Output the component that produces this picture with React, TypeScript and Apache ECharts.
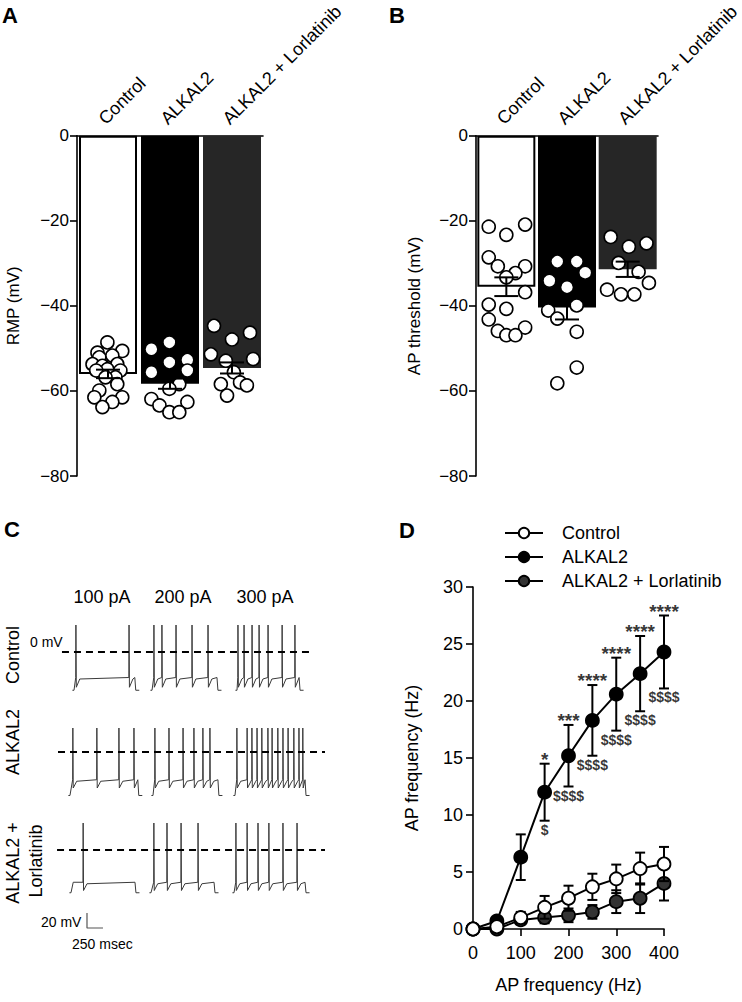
import React, { useEffect, useRef } from "react";
import * as echarts from "echarts";

const FONT = "'Liberation Sans', Arial, Helvetica, sans-serif";

// ---------- Panels A / B ----------
const groups = ["Control", "ALKAL2", "ALKAL2 + Lorlatinib"];

const rmpMean = [-56.0, -58.3, -54.6];
const rmpSem = [1.0, 1.2, 1.3];
const rmpControl = [-48.6, -51.0, -50.6, -52.1, -51.7, -53.7, -54.1, -53.7, -54.9, -55.2, -55.2, -56.8, -56.8, -58.4, -59.9, -61.5, -61.5, -62.6, -63.8];
const rmpControlJitter = [-0.01, -0.17, 0.23, -0.14, 0.07, -0.25, -0.09, 0.15, -0.01, -0.19, 0.2, 0.12, -0.04, 0.15, -0.14, -0.22, 0.23, 0.07, -0.09];
const rmpAlkal2 = [-50.2, -48.6, -53.3, -52.7, -55.6, -55.2, -58.4, -59.5, -61.9, -62.6, -63.4, -65.0, -65.0];
const rmpAlkal2Jitter = [-0.3, -0.01, -0.01, 0.28, -0.3, 0.28, 0.15, -0.01, -0.3, 0.28, -0.17, -0.01, 0.15];
const rmpLorl = [-44.7, -47.9, -46.3, -51.4, -52.9, -52.5, -55.6, -58.4, -58.0, -58.7, -61.1];
const rmpLorlJitter = [-0.29, 0, 0.29, -0.34, -0.1, 0.34, 0.03, -0.18, 0.13, 0.24, -0.08];

const thrMean = [-35.5, -40.4, -31.4];
const thrSem = [2.2, 2.8, 1.8];
const thrControl = [-21.4, -20.9, -23.3, -28.6, -30.7, -30.7, -32.3, -33.3, -36.8, -39.7, -40.7, -43.2, -45.9, -45.1, -46.9, -46.9];
const thrControlJitter = [-0.29, 0.31, 0, -0.29, -0.14, 0.31, 0.15, 0, 0.31, -0.29, 0, -0.29, -0.14, 0.31, 0, 0.15];
const thrAlkal2 = [-29.6, -29.6, -32.2, -34.1, -35.6, -39.9, -41.1, -43.0, -46.1, -54.5, -58.2];
const thrAlkal2Jitter = [-0.16, 0.16, 0.3, -0.29, 0, 0.16, -0.31, -0.16, 0.16, 0.16, -0.16];
const thrLorl = [-23.8, -26.1, -25.3, -29.9, -32.0, -34.6, -36.2, -37.3, -37.3];
const thrLorlJitter = [-0.28, 0.02, 0.31, -0.15, 0.18, 0.35, -0.34, -0.11, 0.11];

// ---------- Panel D ----------
const currentX = [0, 50, 100, 150, 200, 250, 300, 350, 400];
const freqControl = [0, 0.2, 1.0, 1.9, 2.7, 3.7, 4.4, 5.3, 5.7];
const semControl = [0, 0, 0.5, 1.0, 1.1, 1.15, 1.25, 1.4, 1.5];
const freqAlkal2 = [0, 0.7, 6.3, 12.0, 15.2, 18.3, 20.6, 22.4, 24.3];
const semAlkal2 = [0, 0.2, 2.0, 2.5, 2.7, 3.1, 3.2, 3.3, 3.2];
const freqLorl = [0, 0, 0.8, 1.0, 1.2, 1.5, 2.4, 2.7, 4.0];
const semLorl = [0, 0, 0.3, 0.5, 0.6, 0.6, 1.0, 1.3, 1.5];
const starLabels = ["", "", "", "*", "***", "****", "****", "****", "****"];
const dollarLabels = ["", "", "", "$", "$$$$", "$$$$", "$$$$", "$$$$", "$$$$"];

// ---------- Panel C (traces: spike times in ms after step onset) ----------
const traceRows = ["Control", "ALKAL2", "ALKAL2 + Lorlatinib"];
const currentSteps = ["100 pA", "200 pA", "300 pA"];
const spikesControl = [[30, 860], [30, 155, 375, 625, 875], [15, 110, 235, 345, 485, 705, 905]];
const spikesAlkal2 = [[45, 420, 765, 1000], [30, 250, 470, 640, 780, 890], [30, 190, 265, 345, 420, 515, 580, 670, 750, 830, 920, 1000, 1060]];
const spikesLorl = [[190], [45, 250, 470, 735], [30, 205, 375, 545, 765, 985]];
const stepEndControl = [950, 1015, 970];
const stepEndAlkal2 = [1060, 1015, 1095];
const stepEndLorl = [1000, 985, 1110];
const restMv = [-51, -58, -57];
const plateauMv = [-34, -37, -43];
const peakMv = [36, 32, 36];
const ahpMv = [-47, -48, -54];
const scaleBarMv = 20;
const scaleBarMs = 250;

// ---------- layout ----------
const sweepStartMs = [[375, 1594, 2922], [312, 1609, 2890], [328, 1578, 2875]];
const zeroLineMs = [[187, 4110], [125, 4297], [110, 4297]];

const minus = (v: number) => (v < 0 ? "\u2212" + Math.abs(v) : String(v));

function sweepPoints(start: number, spikes: number[], stepEnd: number, r: number) {
  const rest = restMv[r], plateau = plateauMv[r], peak = peakMv[r], ahp = ahpMv[r];
  const pts: number[][] = [[start - 25, rest], [start, rest]];
  if (spikes[0] > 60) pts.push([start + 35, plateau]);
  spikes.forEach((s, i) => {
    const t = start + s;
    const next = i + 1 < spikes.length ? spikes[i + 1] : stepEnd;
    pts.push([t - 3, plateau], [t, peak], [t + 6, ahp]);
    if (next - s > 75) pts.push([t + 60, plateau - 2]);
  });
  pts.push([start + stepEnd, plateau], [start + stepEnd + 15, rest], [start + stepEnd + 70, rest]);
  return pts;
}

function errorBars(xAxisIndex: number, yAxisIndex: number, data: number[][], cap: number, z: number) {
  return {
    type: "custom",
    xAxisIndex,
    yAxisIndex,
    z,
    silent: true,
    encode: { x: 0, y: [1, 2] },
    data,
    renderItem: (_p: any, api: any) => {
      const x = api.value(0);
      const lo = api.coord([x, api.value(1)]);
      const hi = api.coord([x, api.value(2)]);
      const h = cap / 2;
      const st = { stroke: "#000", lineWidth: 2 };
      return {
        type: "group",
        children: [
          { type: "line", shape: { x1: lo[0], y1: lo[1], x2: hi[0], y2: hi[1] }, style: st },
          { type: "line", shape: { x1: lo[0] - h, y1: lo[1], x2: lo[0] + h, y2: lo[1] }, style: st },
          { type: "line", shape: { x1: hi[0] - h, y1: hi[1], x2: hi[0] + h, y2: hi[1] }, style: st },
        ],
      };
    },
  };
}

const barColors = ["#ffffff", "#000000", "#262626"];

function barPanelSeries(gi: number, means: number[], sems: number[], pts: number[][], jit: number[][]) {
  const catX = gi * 2;
  const valX = gi * 2 + 1;
  const out: any[] = [
    {
      type: "bar",
      xAxisIndex: catX,
      yAxisIndex: gi,
      barWidth: 58,
      z: 1,
      data: means.map((v, i) => ({
        value: v,
        itemStyle: { color: barColors[i], borderColor: i === 0 ? "#000" : barColors[i], borderWidth: i === 0 ? 2 : 0 },
      })),
    },
  ];
  pts.forEach((arr, g) => {
    out.push({
      type: "scatter",
      xAxisIndex: valX,
      yAxisIndex: gi,
      z: 3,
      symbol: "circle",
      symbolSize: 13,
      itemStyle: { color: "#fff", borderColor: "#000", borderWidth: 1.6, opacity: 1 },
      data: arr.map((v, k) => [g + 0.5 + jit[g][k], v]),
    });
  });
  out.push(errorBars(catX, gi, means.map((m, i) => [i, m - sems[i], m + sems[i]]), 24, 4));
  return out;
}

function buildOption() {
  const axisLine = { show: true, lineStyle: { color: "#000", width: 1.6 } };
  const tick = { show: true, length: 7, lineStyle: { color: "#000", width: 1.6 } };

  const catAxis = (gi: number) => ({
    type: "category",
    gridIndex: gi,
    position: "top",
    data: groups,
    axisLine,
    axisTick: { show: false },
    axisLabel: { rotate: 45, fontSize: 18, color: "#000", fontFamily: FONT, margin: 8, verticalAlign: "bottom" },
  });
  const hiddenVal = (gi: number) => ({ type: "value", gridIndex: gi, min: 0, max: 3, show: false });
  const abY = (gi: number, name: string, gap: number) => ({
    type: "value",
    gridIndex: gi,
    min: -80,
    max: 0,
    interval: 20,
    offset: 2,
    axisLine,
    axisTick: tick,
    splitLine: { show: false },
    axisLabel: { fontSize: 17, color: "#000", fontFamily: FONT, margin: 6, formatter: (v: number) => minus(v) },
    name,
    nameLocation: "middle",
    nameGap: gap,
    nameTextStyle: { fontSize: 17, color: "#000", fontFamily: FONT },
  });

  const series: any[] = [];
  series.push(...barPanelSeries(0, rmpMean, rmpSem, [rmpControl, rmpAlkal2, rmpLorl], [rmpControlJitter, rmpAlkal2Jitter, rmpLorlJitter]));
  series.push(...barPanelSeries(1, thrMean, thrSem, [thrControl, thrAlkal2, thrLorl], [thrControlJitter, thrAlkal2Jitter, thrLorlJitter]));

  // Panel D
  const dLine = (name: string, ys: number[], fill: string, z: number) => ({
    type: "line",
    name,
    xAxisIndex: 4,
    yAxisIndex: 2,
    z,
    symbol: "circle",
    symbolSize: 13,
    showSymbol: true,
    lineStyle: { color: "#000", width: 2 },
    itemStyle: { color: fill, borderColor: "#000", borderWidth: 1.8 },
    data: currentX.map((x, i) => [x, ys[i]]),
  });
  const ebData = (ys: number[], se: number[]) =>
    currentX.map((x, i) => [x, ys[i] - se[i], ys[i] + se[i]]).filter((_d, i) => se[i] > 0);

  series.push(errorBars(4, 2, ebData(freqAlkal2, semAlkal2), 10, 2));
  series.push(dLine("ALKAL2", freqAlkal2, "#000", 3));
  series.push(errorBars(4, 2, ebData(freqLorl, semLorl), 10, 4));
  series.push(dLine("ALKAL2 + Lorlatinib", freqLorl, "#333", 5));
  series.push(errorBars(4, 2, ebData(freqControl, semControl), 10, 6));
  series.push(dLine("Control", freqControl, "#fff", 7));

  series.push({
    type: "scatter",
    xAxisIndex: 4,
    yAxisIndex: 2,
    z: 8,
    symbolSize: 0,
    silent: true,
    itemStyle: { color: "rgba(0,0,0,0)" },
    label: {
      show: true,
      position: "top",
      distance: -5,
      fontSize: 19,
      fontWeight: "bold",
      color: "#000",
      fontFamily: FONT,
      formatter: (p: any) => starLabels[p.dataIndex],
    },
    data: currentX.map((x, i) => [x, freqAlkal2[i] + semAlkal2[i]]),
  });
  series.push({
    type: "scatter",
    xAxisIndex: 4,
    yAxisIndex: 2,
    z: 8,
    symbolSize: 0,
    silent: true,
    itemStyle: { color: "rgba(0,0,0,0)" },
    label: {
      show: true,
      position: "bottom",
      distance: 2,
      fontSize: 14,
      fontWeight: "bold",
      color: "#000",
      fontFamily: FONT,
      formatter: (p: any) => dollarLabels[p.dataIndex],
    },
    data: currentX.map((x, i) => [x, freqAlkal2[i] - semAlkal2[i]]),
  });

  // Panel C traces
  const rowSpikes = [spikesControl, spikesAlkal2, spikesLorl];
  const rowEnds = [stepEndControl, stepEndAlkal2, stepEndLorl];
  rowSpikes.forEach((row, r) => {
    row.forEach((sp, c) => {
      series.push({
        type: "line",
        xAxisIndex: 5 + r,
        yAxisIndex: 3 + r,
        symbol: "none",
        silent: true,
        z: 2,
        lineStyle: { color: "#3a3a3a", width: 1 },
        data: sweepPoints(sweepStartMs[r][c], sp, rowEnds[r][c], r),
      });
    });
    series.push({
      type: "line",
      xAxisIndex: 5 + r,
      yAxisIndex: 3 + r,
      symbol: "none",
      silent: true,
      z: 3,
      lineStyle: { color: "#000", width: 2, type: [7, 5] },
      data: [[zeroLineMs[r][0], 0], [zeroLineMs[r][1], 0]],
    });
  });
  // scale bar (in the bottom row's scales)
  series.push({
    type: "line",
    xAxisIndex: 7,
    yAxisIndex: 5,
    symbol: "none",
    silent: true,
    lineStyle: { color: "#555", width: 1.2 },
    data: [[578, -84], [578, -84 - scaleBarMv], [578 + scaleBarMs, -84 - scaleBarMv]],
  });

  const cGrid = (top: number, h: number) => ({ left: 50, top, width: 280, height: h });
  const cX = (gi: number) => ({ type: "value", gridIndex: gi, min: 0, max: 4375, show: false });
  const cY = (gi: number, min: number) => ({ type: "value", gridIndex: gi, min, max: 50, show: false });

  const txt = (text: string, x: number, y: number, size: number, opts: any = {}) => ({
    type: "text",
    x,
    y,
    rotation: opts.rotation || 0,
    silent: true,
    style: {
      text,
      fill: "#000",
      fontSize: size,
      fontFamily: FONT,
      fontWeight: opts.bold ? "bold" : "normal",
      align: opts.align || "left",
      verticalAlign: opts.va || "middle",
    },
  });

  const graphic = [
    txt("A", 2, 15, 22, { bold: true }),
    txt("B", 389, 15, 22, { bold: true }),
    txt("C", 4, 529, 22, { bold: true }),
    txt("D", 399, 530, 22, { bold: true }),
    txt(currentSteps[0], 102, 597, 18, { align: "center" }),
    txt(currentSteps[1], 183, 597, 18, { align: "center" }),
    txt(currentSteps[2], 265, 597, 18, { align: "center" }),
    txt("0 mV", 30, 642, 14),
    txt(traceRows[0], 13, 655, 18, { align: "center", rotation: Math.PI / 2 }),
    txt(traceRows[1], 13, 742, 18, { align: "center", rotation: Math.PI / 2 }),
    txt("ALKAL2 +", 13, 863, 18, { align: "center", rotation: Math.PI / 2 }),
    txt("Lorlatinib", 36, 861, 18, { align: "center", rotation: Math.PI / 2 }),
    txt(scaleBarMv + " mV", 41, 922, 14),
    txt(scaleBarMs + " msec", 72, 944, 14),
  ];

  return {
    animation: false,
    backgroundColor: "#fff",
    textStyle: { fontFamily: FONT },
    legend: {
      data: ["Control", "ALKAL2", "ALKAL2 + Lorlatinib"],
      orient: "vertical",
      left: 499,
      top: 519,
      itemWidth: 38,
      itemHeight: 13,
      itemGap: 6,
      selectedMode: false,
      textStyle: { fontSize: 18, color: "#000", fontFamily: FONT, padding: [0, 0, 0, 14] },
    },
    grid: [
      { left: 77, top: 133, width: 186, height: 343 },
      { left: 476, top: 133, width: 186, height: 343 },
      { left: 473, top: 587, width: 191, height: 342 },
      cGrid(614.5, 90),
      cGrid(714.5, 90),
      cGrid(812.5, 120),
    ],
    xAxis: [
      catAxis(0),
      hiddenVal(0),
      catAxis(1),
      hiddenVal(1),
      {
        type: "value",
        gridIndex: 2,
        min: 0,
        max: 400,
        interval: 100,
        axisLine,
        axisTick: { ...tick, inside: false },
        splitLine: { show: false },
        axisLabel: { fontSize: 18, color: "#000", fontFamily: FONT, margin: 15 },
        name: "AP frequency (Hz)",
        nameLocation: "middle",
        nameGap: 47,
        nameTextStyle: { fontSize: 18, color: "#000", fontFamily: FONT },
      },
      cX(3),
      cX(4),
      cX(5),
    ],
    yAxis: [
      abY(0, "RMP (mV)", 53),
      abY(1, "AP threshold (mV)", 51),
      {
        type: "value",
        gridIndex: 2,
        min: 0,
        max: 30,
        interval: 5,
        axisLine,
        axisTick: tick,
        splitLine: { show: false },
        axisLabel: { fontSize: 18, color: "#000", fontFamily: FONT, margin: 10 },
        name: "AP frequency (Hz)",
        nameLocation: "middle",
        nameGap: 52,
        nameTextStyle: { fontSize: 18, color: "#000", fontFamily: FONT },
      },
      cY(3, -70),
      cY(4, -70),
      cY(5, -110),
    ],
    series,
    graphic,
  };
}

export default function App() {
  const ref = useRef<HTMLDivElement>(null);
  useEffect(() => {
    if (!ref.current) return;
    const chart = echarts.init(ref.current, null, { renderer: "svg" });
    chart.setOption(buildOption() as any);
    return () => chart.dispose();
  }, []);
  return (
    <div
      ref={ref}
      style={{ position: "fixed", left: 0, top: 0, width: 742, height: 1002, background: "#fff" }}
    />
  );
}
